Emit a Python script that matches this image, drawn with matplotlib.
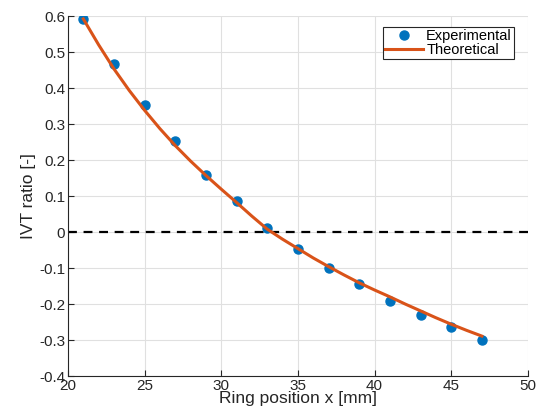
import matplotlib
matplotlib.use('Agg')
import matplotlib.pyplot as plt

plt.rcParams['font.family'] = ['Liberation Sans', 'DejaVu Sans']

# measured points
x_exp = [21, 23, 25, 27, 29, 31, 33, 35, 37, 39, 41, 43, 45, 47]
y_exp = [0.592, 0.467, 0.353, 0.253, 0.158, 0.086, 0.010, -0.047, -0.100,
         -0.144, -0.192, -0.231, -0.265, -0.299]

# theoretical curve
x_th = [21, 22, 23, 24, 25, 26, 27, 28, 29, 30, 31, 32, 33, 34, 35, 36, 37,
        38, 39, 40, 41, 42, 43, 44, 45, 46, 47]
y_th = [0.592, 0.520, 0.453, 0.393, 0.338, 0.287, 0.240, 0.197, 0.157, 0.119,
        0.082, 0.044, 0.008, -0.020, -0.046, -0.072, -0.096, -0.119, -0.141,
        -0.161, -0.180, -0.200, -0.219, -0.238, -0.256, -0.273, -0.289]

fig = plt.figure(figsize=(5.37, 4.16), dpi=100)
ax = fig.add_axes([0.1266, 0.096, 0.8564, 0.8655])

ax.axhline(0, color='black', linestyle=(0, (4, 3)), linewidth=1.6, zorder=1)
ax.plot(x_exp, y_exp, 'o', color='#0072BD', markersize=6.5, label='Experimental', zorder=3)
ax.plot(x_th, y_th, '-', color='#D95319', linewidth=2.2, label='Theoretical', zorder=4)

ax.set_xlim(20, 50)
ax.set_ylim(-0.4, 0.6)
ax.set_xticks(range(20, 51, 5))
ax.set_yticks([-0.4, -0.3, -0.2, -0.1, 0, 0.1, 0.2, 0.3, 0.4, 0.5, 0.6])
ax.set_yticklabels(['-0.4', '-0.3', '-0.2', '-0.1', '0', '0.1', '0.2', '0.3',
                    '0.4', '0.5', '0.6'])
ax.grid(True, color='#e0e0e0', linewidth=0.8)
ax.set_axisbelow(True)
for s in ['top', 'right']:
    ax.spines[s].set_visible(False)
for s in ['left', 'bottom']:
    ax.spines[s].set_color('#262626')
ax.tick_params(direction='in', length=4, labelsize=11, colors='#262626', pad=2)

ax.set_xlabel('Ring position x [mm]', fontsize=12.5, color='#262626', labelpad=-1)
ax.set_ylabel('IVT ratio [-]', fontsize=12.5, color='#262626', labelpad=2)

leg = ax.legend(loc='upper right', bbox_to_anchor=(0.97, 0.97), fontsize=10.5,
                fancybox=False, edgecolor='#262626', framealpha=1,
                borderpad=0.15, labelspacing=0.0, handlelength=2.6,
                handletextpad=0.2, borderaxespad=0)
leg.get_frame().set_linewidth(0.8)

fig.savefig('out.png', dpi=100)
